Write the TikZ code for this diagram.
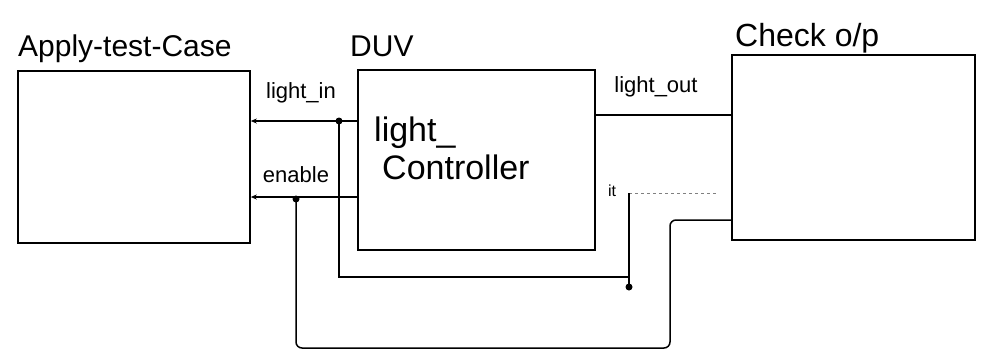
\documentclass[tikz,border=0pt]{standalone}
\usepackage{fontspec}
\setmainfont{Liberation Sans}
\usetikzlibrary{arrows.meta}
\tikzset{
  blockbox/.style={draw, line width=1.6pt, inner sep=0pt},
  wire/.style={line width=1.5pt},
  faint/.style={line width=0.8pt, dashed, gray},
  tip/.style={{Stealth[length=6pt,width=5pt]}-},
  titletext/.style={font=\fontsize{30}{34}\selectfont, anchor=base west, inner sep=0pt},
  sigtext/.style={font=\fontsize{22}{26}\selectfont, inner sep=0pt},
  innertext/.style={font=\fontsize{34}{44}\selectfont, align=left, anchor=west, inner sep=0pt},
  jdot/.style={fill, circle, minimum size=7pt, inner sep=0pt}
}
\begin{document}
\begin{tikzpicture}[x=1pt,y=-1pt]
\useasboundingbox (0,0) rectangle (988,360);
% blocks
\node[blockbox, minimum width=232pt, minimum height=172pt] (apply) at (134,157) {};
\node[blockbox, minimum width=237pt, minimum height=180pt] (duv) at (476.5,160) {};
\node[blockbox, minimum width=243pt, minimum height=185pt] (check) at (853.5,147.5) {};
% titles
\node[titletext] (applyT) at (18,56) {Apply-test-Case};
\node[titletext] (duvT) at (350,56) {DUV};
\node[titletext, font=\fontsize{32}{36}\selectfont] (checkT) at (735,46) {Check o/p};
\node[innertext] (duvIn) at (374,148) {light\_\\[-6pt]\hspace{8pt}Controller};
% signal labels
\node[sigtext] (linL) at (301,93) {light\_in};
\node[sigtext] (enL) at (296,175) {enable};
\node[sigtext] (loutL) at (656,87) {light\_out};
\node[font=\fontsize{16}{18}\selectfont, inner sep=0pt] (itL) at (612,191) {it};
% connection points
\coordinate (liA) at (apply.east |- 0,121);
\coordinate (liD) at (duv.west |- 0,121);
\coordinate (enA) at (apply.east |- 0,197);
\coordinate (enD) at (duv.west |- 0,197);
\coordinate (loD) at (duv.east |- 0,115);
\coordinate (loC) at (check.west |- 0,115);
\coordinate (itJ) at (629,193);
\coordinate (itE) at (718,193);
\coordinate (tapB) at (629,277);
\node[jdot] (liJ) at (339,121) {};
\node[jdot] (enJ) at (296,199) {};
\node[jdot] (endB) at (629,287) {};
\coordinate (enB) at (670,348);
\coordinate (enU) at (670,220);
\coordinate (enC) at (check.west |- 0,220);
% signal lines
\draw[wire, tip] (liA) -- (liD);
\draw[wire, tip] (enA) -- (enD);
\draw[wire] (loD) -- (loC);
\draw[faint] (itJ) -- (itE);
% feedback wires
\draw[wire] (liJ.center) |- (tapB);
\draw[wire] (itJ) -- (endB.center);
\draw[wire, rounded corners=6pt] (enJ.center) |- (enB) -- (enU) -- (enC);
\end{tikzpicture}
\end{document}
